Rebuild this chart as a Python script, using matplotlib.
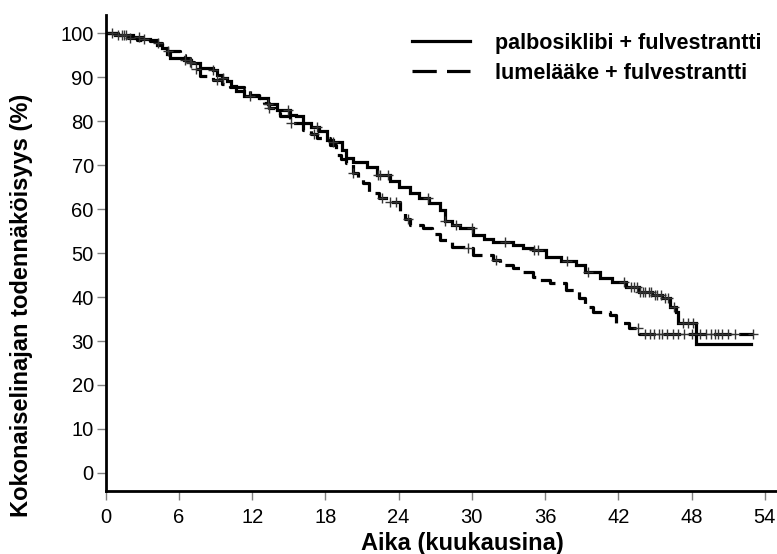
import numpy as np
import matplotlib
matplotlib.use("Agg")
import matplotlib.pyplot as plt
from matplotlib.lines import Line2D

plt.rcParams['font.family'] = ['Liberation Sans', 'DejaVu Sans']

# ---- data ----
labels = ["palbosiklibi + fulvestrantti", "lumelääke + fulvestrantti"]

palbo_t = [0, 0.8, 2.2, 3.0, 3.6, 4.2, 4.6, 5.0, 5.3, 6.4, 7.0, 7.7, 8.8, 9.1, 9.5,
           9.9, 10.3, 10.7, 11.3, 12.6, 13.3, 14.0, 15.1, 15.6, 16.2, 16.8, 17.5,
           18.1, 18.6, 19.4, 19.7, 20.3, 21.4, 22.2, 23.3, 24.0, 24.9, 25.7, 26.5,
           27.4, 27.8, 28.4, 29.0, 30.1, 31.0, 31.7, 33.4, 34.2, 35.0, 36.1, 37.3,
           38.5, 39.3, 40.5, 41.5, 42.6, 43.7, 44.8, 45.6, 46.2, 46.7, 46.9, 48.4, 52.9]
palbo_s = [100, 99.7, 99.2, 98.8, 98.5, 97.4, 96.6, 95.3, 94.4, 94.0, 93.2, 92.1, 91.7, 90.6, 89.8,
           89.1, 88.0, 86.8, 85.8, 85.4, 84.0, 82.6, 81.5, 81.1, 79.6, 78.6, 77.7,
           75.8, 75.2, 73.5, 71.6, 70.8, 69.7, 67.8, 66.3, 65.0, 63.6, 62.5, 61.4,
           59.8, 57.2, 56.4, 55.7, 54.1, 53.3, 52.6, 51.9, 51.2, 50.7, 49.2, 48.3,
           47.3, 45.8, 44.3, 43.5, 42.4, 41.2, 40.5, 39.7, 37.8, 36.7, 34.2, 29.4, 29.4]
palbo_cens = [0.5, 1.0, 1.5, 2.7, 3.1, 6.5, 7.0, 8.8, 9.6, 11.8, 13.3, 14.9, 17.3, 18.6,
              22.3, 22.5, 23.1, 26.4, 27.8, 28.7, 30.0, 32.7, 35.1, 35.4, 37.8, 39.5,
              42.5, 43.0, 43.3, 43.5, 43.8, 44.0, 44.2, 44.5, 44.7, 45.0, 45.2, 45.5,
              45.8, 46.1, 46.6, 47.3, 47.7, 48.1]

plac_t = [0, 1.0, 1.8, 2.6, 3.6, 4.2, 4.6, 5.0, 6.1, 6.5, 6.9, 7.2, 7.7, 8.8, 9.5,
          10.2, 11.3, 11.8, 12.6, 13.0, 13.4, 13.9, 14.3, 15.1, 16.2, 16.8, 17.3,
          18.4, 18.9, 19.3, 19.7, 20.3, 20.7, 21.1, 21.6, 22.4, 23.3, 24.1, 24.5,
          24.9, 26.0, 26.7, 27.4, 28.4, 29.5, 30.1, 31.7, 32.3, 33.4, 34.2, 35.0,
          35.5, 36.4, 37.7, 38.8, 39.3, 39.9, 41.3, 41.8, 42.9, 43.7, 53.0]
plac_s = [100, 99.7, 99.0, 98.6, 98.3, 97.8, 96.8, 95.9, 95.1, 94.4, 93.6, 92.0, 90.2, 89.5, 88.6,
          87.9, 87.6, 86.0, 85.3, 84.2, 83.0, 82.0, 81.1, 79.6, 78.1, 77.0, 76.2,
          74.6, 72.4, 71.5, 70.5, 68.2, 67.0, 65.9, 63.6, 62.5, 61.7, 59.1, 57.8,
          56.4, 55.7, 54.3, 53.0, 51.5, 51.1, 49.6, 48.5, 47.3, 46.6, 45.6, 44.6,
          43.9, 43.1, 41.6, 39.7, 37.8, 36.7, 35.9, 34.0, 32.9, 31.6, 31.6]
plac_cens = [1.3, 1.7, 2.0, 4.3, 5.1, 6.9, 7.4, 9.1, 13.4, 15.2, 17.1, 20.3, 22.6, 23.3,
             23.8, 24.8, 29.7, 32.0, 43.6, 44.2, 44.6, 44.9, 45.3, 45.6, 46.0, 46.5,
             46.9, 47.4, 48.0, 48.7, 49.2, 49.6, 49.9, 50.2, 50.5, 51.0, 51.6, 53.0]

x_ticks = [0, 6, 12, 18, 24, 30, 36, 42, 48, 54]
y_ticks = [0, 10, 20, 30, 40, 50, 60, 70, 80, 90, 100]


def step_lookup(t_knots, s_knots, tq):
    idx = np.searchsorted(t_knots, tq, side='right') - 1
    idx = np.clip(idx, 0, len(s_knots) - 1)
    return np.asarray(s_knots)[idx]


fig = plt.figure(figsize=(7.77, 5.54), dpi=100)
ax = fig.add_axes([0.136, 0.114, 0.864, 0.859])

lw = 2.3
ax.plot(palbo_t, palbo_s, drawstyle='steps-post', color='black', lw=lw,
        solid_joinstyle='miter')
ax.plot(plac_t, plac_s, drawstyle='steps-post', color='black', lw=lw,
        linestyle=(0, (5.5, 2.4)))

ax.plot(palbo_cens, step_lookup(palbo_t, palbo_s, palbo_cens), linestyle='none',
        marker='+', ms=7.5, mew=1.0, color='#333333')
ax.plot(plac_cens, step_lookup(plac_t, plac_s, plac_cens), linestyle='none',
        marker='+', ms=7.5, mew=1.0, color='#333333')

ax.set_xlim(0, 55)
ax.set_ylim(-4.1, 104.2)
ax.set_xticks(x_ticks)
ax.set_yticks(y_ticks)
ax.tick_params(axis='both', direction='out', length=6.5, width=1.0, color='#808080',
               labelsize=14.5, labelcolor='black')
ax.tick_params(axis='x', pad=6)
ax.tick_params(axis='y', pad=2)

for s in ['top', 'right']:
    ax.spines[s].set_visible(False)
for s in ['left', 'bottom']:
    ax.spines[s].set_linewidth(2.0)
    ax.spines[s].set_color('black')

ax.set_xlabel("Aika (kuukausina)", fontsize=17, fontweight='bold')
ax.set_ylabel("Kokonaiselinajan todennäköisyys (%)", fontsize=17, fontweight='bold')
ax.xaxis.set_label_coords(0.532, -0.086)
ax.yaxis.set_label_coords(-0.108, 0.389)

h1 = Line2D([], [], color='black', lw=2.3)
h2 = Line2D([], [], color='black', lw=2.3, linestyle=(0, (7.6, 3.2)))
leg = fig.legend(handles=[h1, h2], labels=labels, loc='upper left',
                 bbox_to_anchor=(412 / 777, 1 - 33 / 554), bbox_transform=fig.transFigure,
                 frameon=False, fontsize=15.5, handlelength=2.7, handletextpad=1.15,
                 labelspacing=0.4, borderaxespad=0, borderpad=0)
for t in leg.get_texts():
    t.set_fontweight('bold')

fig.savefig("out.png", dpi=100)
